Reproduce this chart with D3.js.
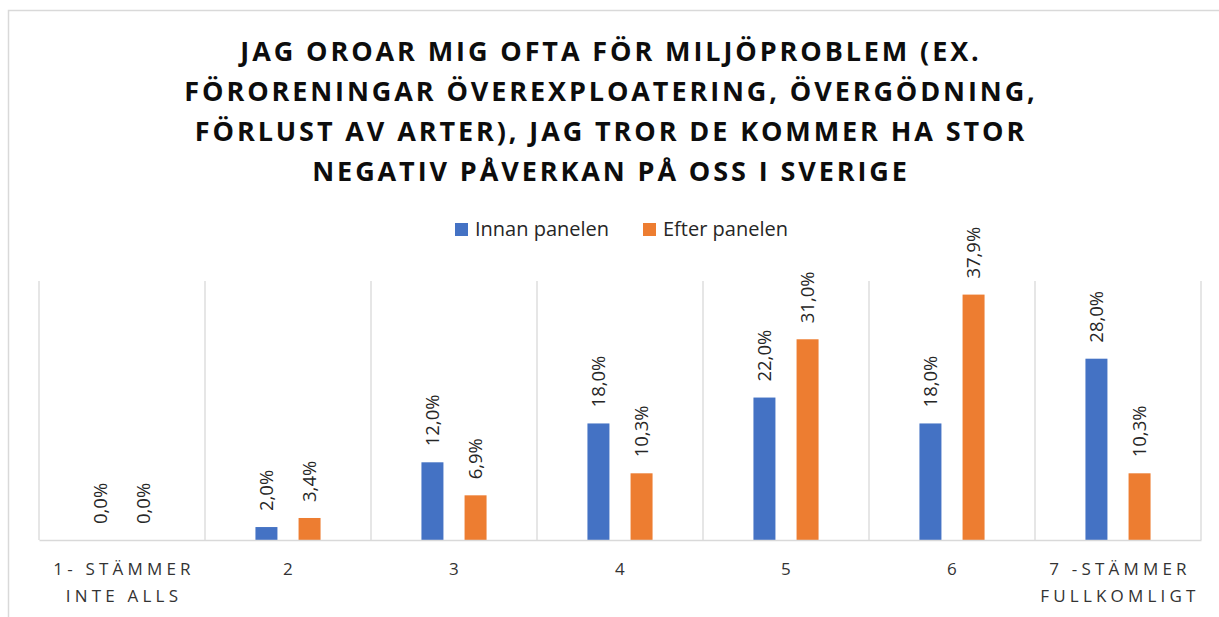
<!DOCTYPE html>
<html><head><meta charset="utf-8">
<script src="https://cdn.jsdelivr.net/npm/d3@7"></script>
<style>html,body{margin:0;padding:0;background:#fff;}</style>
</head><body>
<svg id="c" width="1219" height="617"></svg>
<script>
const titleLines = ["JAG OROAR MIG OFTA FÖR MILJÖPROBLEM (EX.",
  "FÖRORENINGAR ÖVEREXPLOATERING, ÖVERGÖDNING,",
  "FÖRLUST AV ARTER), JAG TROR DE KOMMER HA STOR",
  "NEGATIV PÅVERKAN PÅ OSS I SVERIGE"];
const categories = ["1- STÄMMER INTE ALLS","2","3","4","5","6","7 -STÄMMER FULLKOMLIGT"];
const categoryLines = [["1- STÄMMER","INTE ALLS"],["2"],["3"],["4"],["5"],["6"],["7 -STÄMMER","FULLKOMLIGT"]];
const seriesNames = ["Innan panelen","Efter panelen"];
const innan = [0.0, 2.0, 12.0, 18.0, 22.0, 18.0, 28.0];
const efter = [0.0, 3.4, 6.9, 10.3, 31.0, 37.9, 10.3];
const colors = ["#4472C4","#ED7D31"];

const svg = d3.select("#c");
svg.append("rect").attr("x",8.5).attr("y",10.5).attr("width",1230).attr("height",640)
  .attr("fill","#fff").attr("stroke","#D9D9D9").attr("stroke-width",1.5);

const plot = {l:39, r:1201, t:281, b:540};
const x0 = d3.scaleBand().domain(categories).range([plot.l, plot.r]).padding(0);
const x1 = d3.scaleBand().domain(seriesNames).range([0, x0.bandwidth()]).paddingInner(0.49).paddingOuter(1.17);
const y = d3.scaleLinear().domain([0, 40]).range([plot.b, plot.t]);

// gridlines at category boundaries
const bounds = categories.map(c => x0(c)).concat([plot.r]);
svg.append("g").selectAll("line").data(bounds).join("line")
  .attr("x1", d=>d).attr("x2", d=>d).attr("y1", plot.t).attr("y2", plot.b)
  .attr("stroke","#D9D9D9").attr("stroke-width",1.3);

// bars
const data = categories.map((c,i)=>({c, vals:[innan[i], efter[i]]}));
const groups = svg.append("g").selectAll("g").data(data).join("g")
  .attr("transform", d=>`translate(${x0(d.c)},0)`);
groups.selectAll("rect").data(d=>d.vals.map((v,j)=>({v, s:seriesNames[j], j})))
  .join("rect")
  .attr("x", d=>x1(d.s)).attr("width", x1.bandwidth())
  .attr("y", d=>y(d.v)).attr("height", d=>y(0)-y(d.v))
  .attr("fill", d=>colors[d.j]);
const fmt = v => v.toFixed(1).replace(".", ",") + "%";
groups.selectAll("text").data(d=>d.vals.map((v,j)=>({v, s:seriesNames[j], j})))
  .join("text")
  .attr("transform", d=>`translate(${x1(d.s)+x1.bandwidth()/2},${y(d.v)-16}) rotate(-90)`)
  .attr("dy","0.36em")
  .attr("font-family","'Open Sans'").attr("font-size",18.5).attr("fill","#262626")
  .text(d=>fmt(d.v));

// baseline axis
const xAxis = d3.axisBottom(x0).tickSize(0).tickFormat("");
const ax = svg.append("g").attr("transform",`translate(0,${plot.b})`).call(xAxis);
ax.select(".domain").attr("stroke","#D9D9D9").attr("stroke-width",1.5);

// category labels
const cl = svg.append("g").selectAll("text").data(categories).join("text")
  .attr("x", d=>x0(d)+x0.bandwidth()/2).attr("y", 575)
  .attr("text-anchor","middle")
  .attr("font-family","'Open Sans'").attr("font-size",17).attr("fill","#333")
  .attr("letter-spacing", 4.2);
cl.each(function(d,i){
  d3.select(this).selectAll("tspan").data(categoryLines[i]).join("tspan")
    .attr("x", x0(d)+x0.bandwidth()/2 + 2).attr("dy",(t,k)=>k===0?0:27).text(t=>t);
});

// title
svg.append("g").selectAll("text").data(titleLines).join("text")
  .attr("x", 611).attr("y",(d,i)=>61+i*40)
  .attr("text-anchor","middle")
  .attr("font-family","'Open Sans'").attr("font-weight","bold").attr("font-size",27)
  .attr("letter-spacing",2.9).attr("fill","#0D0D0D")
  .text(d=>d);

// legend
const lg = svg.append("g");
const legendX = [455, 643];
seriesNames.forEach((s,i)=>{
  lg.append("rect").attr("x",legendX[i]).attr("y",223).attr("width",13).attr("height",13).attr("fill",colors[i]);
  lg.append("text").attr("x",legendX[i]+20).attr("y",236)
    .attr("font-family","'Open Sans'").attr("font-size",20).attr("fill","#262626").text(s);
});
</script>
</body></html>
